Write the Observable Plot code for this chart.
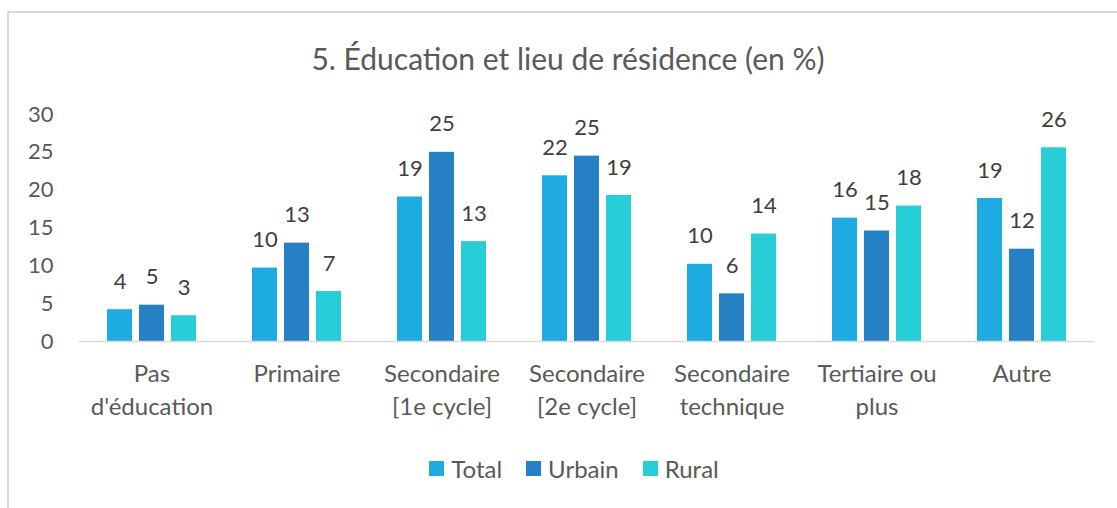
<!DOCTYPE html>
<html>
<head>
<meta charset="utf-8">
<script src="https://cdn.jsdelivr.net/npm/d3@7"></script>
<script src="https://cdn.jsdelivr.net/npm/@observablehq/plot@0.6"></script>
<style>
  html, body { margin: 0; padding: 0; background: #fff; overflow: hidden; }
  #frame {
    position: absolute; left: 7px; top: 11px;
    width: 1118px; height: 500px;
    border-left: 2px solid #d9d9d9; border-top: 2px solid #d9d9d9;
    font-family: "Lato", sans-serif;
  }
  #title {
    height: 90px; line-height: 90px; text-align: center;
    font-size: 30px; color: #595959;
  }
  #chart svg { display: block; overflow: visible; }
  #legend {
    height: 70px; display: flex; align-items: center; justify-content: center;
    padding-left: 12px; box-sizing: border-box;
    font-size: 24px; color: #595959;
  }
  .item { display: flex; align-items: center; margin: 0 12px; }
  .sw { width: 15px; height: 15px; margin-right: 7px; }
</style>
</head>
<body>
<div id="frame">
  <div id="title">5. Éducation et lieu de résidence (en %)</div>
  <div id="chart"></div>
  <div id="legend"></div>
</div>
<script>
const categories = ["Pas\nd'éducation", "Primaire", "Secondaire\n[1e cycle]", "Secondaire\n[2e cycle]", "Secondaire\ntechnique", "Tertiaire ou\nplus", "Autre"];
const series = ["Total", "Urbain", "Rural"];
const colors = ["#1dabe2", "#2581c4", "#27cdd7"];
const total  = [4.2, 9.7, 19.1, 21.9, 10.2, 16.3, 18.9];
const urbain = [4.8, 13.0, 25.0, 24.5, 6.3, 14.6, 12.2];
const rural  = [3.4, 6.6, 13.2, 19.3, 14.2, 17.9, 25.6];
const yTicks = [0, 5, 10, 15, 20, 25, 30];

const values = [total, urbain, rural];
const data = [];
categories.forEach((c, i) => {
  series.forEach((s, j) => data.push({cat: c, series: s, value: values[j][i]}));
});

const chart = Plot.plot({
  width: 1108,
  height: 330,
  marginLeft: 70,
  marginRight: 23,
  marginTop: 11,
  marginBottom: 92,
  style: {fontFamily: "Lato, sans-serif", background: "transparent"},
  fx: {domain: categories, padding: 0, label: null},
  x: {domain: series, paddingInner: 0.219, paddingOuter: 0.875, axis: null},
  y: {domain: [0, 30], label: null},
  color: {domain: series, range: colors},
  marks: [
    Plot.axisY({ticks: yTicks, tickSize: 0, tickPadding: 26, fontSize: 22, fill: "#595959", label: null}),
    Plot.axisFx({anchor: "bottom", tickSize: 0, tickPadding: 17, fontSize: 24, lineHeight: 1.38, fill: "#595959", label: null}),
    Plot.barY(data, {fx: "cat", x: "series", y: "value", fill: "series"}),
    Plot.ruleY([0], {stroke: "#d9d9d9", strokeWidth: 1.5}),
    Plot.text(data, {fx: "cat", x: "series", y: "value", text: d => String(Math.round(d.value)), dy: -28, fontSize: 22, fill: "#404040"})
  ]
});
document.getElementById("chart").appendChild(chart);

const legend = document.getElementById("legend");
series.forEach((s, j) => {
  const it = document.createElement("div");
  it.className = "item";
  const sw = document.createElement("div");
  sw.className = "sw";
  sw.style.background = colors[j];
  const t = document.createElement("span");
  t.textContent = s;
  it.appendChild(sw); it.appendChild(t);
  legend.appendChild(it);
});
</script>
</body>
</html>
